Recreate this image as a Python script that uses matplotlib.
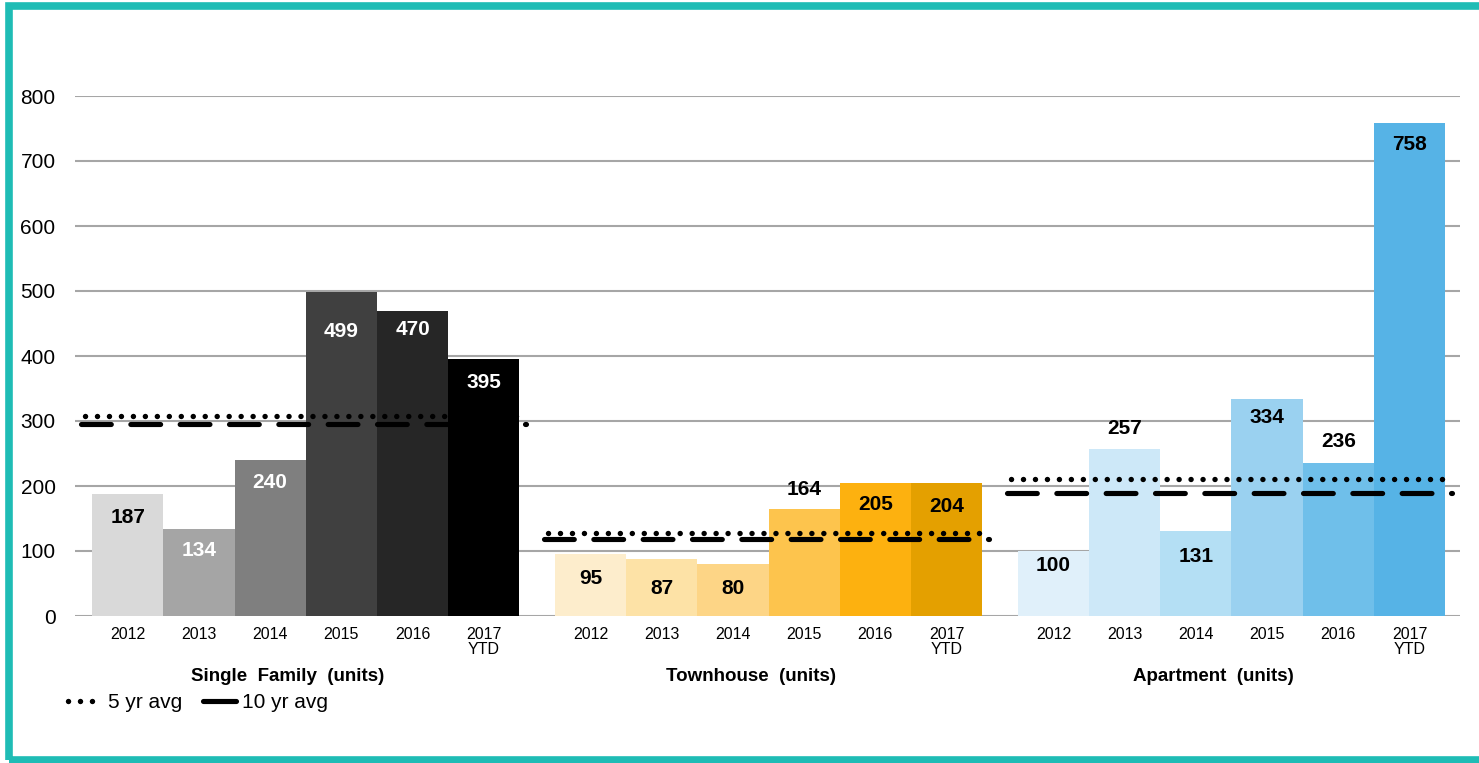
import numpy as np
import matplotlib
matplotlib.use('Agg')
import matplotlib.pyplot as plt
from matplotlib.lines import Line2D
from matplotlib.patches import Rectangle

plt.rcParams['font.family'] = ['Liberation Sans', 'DejaVu Sans']

# data
groups = ['Single  Family  (units)', 'Townhouse  (units)', 'Apartment  (units)']
years = ['2012', '2013', '2014', '2015', '2016', '2017\nYTD']
single_family = [187, 134, 240, 499, 470, 395]
townhouse = [95, 87, 80, 164, 205, 204]
apartment = [100, 257, 131, 334, 236, 758]
avg_5yr = [307, 128, 211]
avg_10yr = [296, 118, 190]

# styles
colors = [
    ['#d9d9d9', '#a5a5a5', '#7f7f7f', '#404040', '#262626', '#000000'],
    ['#fdedcc', '#fde2a6', '#fdd586', '#fdc44d', '#fdb10f', '#e4a000'],
    ['#e0f0fa', '#cde8f8', '#b4dff4', '#9ad1f0', '#6fbfea', '#56b3e6'],
]
label_colors = [
    ['black', 'white', 'white', 'white', 'white', 'white'],
    ['black'] * 6,
    ['black'] * 6,
]
# label offset from bar top, in data units
label_offsets = [
    [-35, -34, -35, -62, -29, -35],
    [-37, -44, -38, 31, -34, -35],
    [-22, 32, -39, -29, 32, -33],
]
teal = '#1fbcb5'
dot_style = (0, (0.01, 2.2))
dash_style = (0, (5.8, 3.8))

values = [single_family, townhouse, apartment]
n = len(years)
step = n + 0.5

fig = plt.figure(figsize=(14.79, 7.63), dpi=100)
ax = fig.add_axes([75 / 1479, 147 / 763, 1385 / 1479, 520 / 763])

ticks = []
ticklabels = []
for g, vals in enumerate(values):
    x = g * step + np.arange(n) + 0.5
    ax.bar(x, vals, width=1.0, color=colors[g], zorder=2)
    for i, v in enumerate(vals):
        ax.text(x[i], v + label_offsets[g][i], str(v), ha='center', va='center',
                fontsize=15, fontweight='bold', color=label_colors[g][i], zorder=4)
    ax.plot([g * step - 0.1, g * step + n], [avg_5yr[g]] * 2, color='black', lw=3.9,
            linestyle=dot_style, dash_capstyle='round', zorder=3)
    ax.plot([g * step - 0.15, g * step + n + 0.1], [avg_10yr[g]] * 2, color='black', lw=3.7,
            linestyle=dash_style, dash_capstyle='round', zorder=3)
    ticks.extend(x)
    ticklabels.extend(years)
    ax.text(g * step + n / 2 - 0.25, -93, groups[g], ha='center', va='center',
            fontsize=13.5, fontweight='bold')

ax.set_xlim(-0.24, 19.21)
ax.set_ylim(0, 800)
ax.set_yticks(np.arange(0, 801, 100))
ax.set_xticks(ticks)
ax.set_xticklabels(ticklabels, fontsize=11.5, linespacing=0.95)
ax.tick_params(axis='x', length=0, pad=8)
ax.tick_params(axis='y', length=0, pad=14, labelsize=15)
ax.yaxis.grid(True, color='#a6a6a6', lw=1.5, zorder=0)
ax.set_axisbelow(True)
for s in ax.spines.values():
    s.set_visible(False)

handles = [
    Line2D([0], [0], color='black', lw=3.9, linestyle=dot_style, dash_capstyle='round'),
    Line2D([0], [0], color='black', lw=3.7, solid_capstyle='round'),
]
fig.legend(handles, ['5 yr avg', '10 yr avg'], loc='center left',
           bbox_to_anchor=(68 / 1479, 1 - 703 / 763), ncol=2, frameon=False,
           fontsize=15, handlelength=1.6, handletextpad=0.3, columnspacing=1.0,
           borderaxespad=0, borderpad=0)

# teal frame
fig.add_artist(Rectangle((9 / 1479, 3 / 763), 1.2, 1 - 9 / 763, transform=fig.transFigure,
                         fill=False, edgecolor=teal, lw=5.5, zorder=10))

fig.savefig('out.png', dpi=100)
